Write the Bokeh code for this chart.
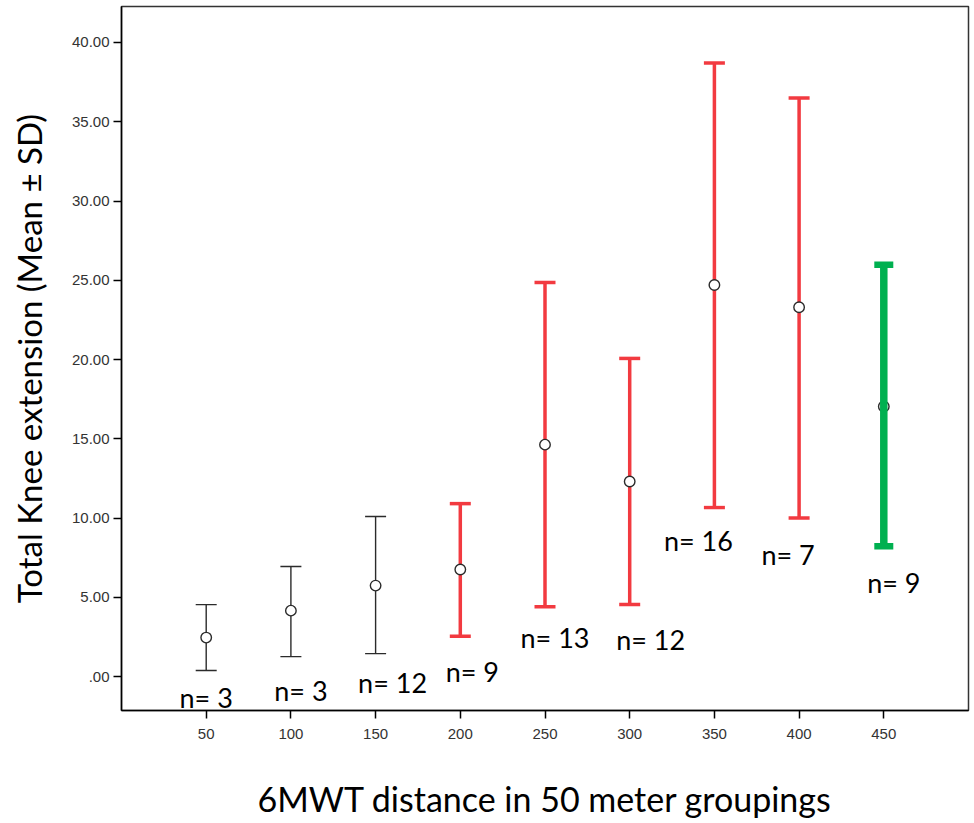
from bokeh.plotting import figure
from bokeh.models import ColumnDataSource, Range1d, FixedTicker
from bokeh.core.properties import value
from bokeh.embed import file_html
from bokeh.resources import INLINE

# ---- data ----
groups = [50, 100, 150, 200, 250, 300, 350, 400, 450]
means = [2.46, 4.16, 5.74, 6.75, 14.63, 12.31, 24.70, 23.30, 17.04]
lower = [0.38, 1.26, 1.45, 2.54, 4.41, 4.54, 10.66, 10.00, 8.22]
upper = [4.54, 6.94, 10.10, 10.91, 24.86, 20.07, 38.70, 36.50, 25.98]
counts = [3, 3, 12, 9, 13, 12, 16, 7, 9]
highlight = ["none", "none", "none", "red", "red", "red", "red", "red", "green"]

y_ticks = [0, 5, 10, 15, 20, 25, 30, 35, 40]
y_tick_labels = [".00", "5.00", "10.00", "15.00", "20.00", "25.00", "30.00", "35.00", "40.00"]
x_ticks = groups

# ---- styling (label offsets in screen pixels) ----
label_dx = [0, 10, 17, 12, 10, 21, -16, -11, 10]
label_dy = [27, 34, 29, 35, 31, 35, 33, 36, 36]

BLACK = "#2b2b2b"
RED = "#F23A40"
GREEN = "#00B050"

p = figure(width=970, height=821, x_range=Range1d(0, 500), y_range=Range1d(-2.14, 42.27),
           output_backend="svg", toolbar_location=None,
           min_border_left=121, min_border_right=2, min_border_top=6, min_border_bottom=110)
p.grid.visible = False
p.outline_line_color = "#333333"
p.outline_line_width = 1.5
p.background_fill_color = "white"
p.border_fill_color = "white"

def subset(kind):
    idx = [i for i, h in enumerate(highlight) if h == kind]
    return ColumnDataSource(dict(
        x=[groups[i] for i in idx], m=[means[i] for i in idx],
        lo=[lower[i] for i in idx], hi=[upper[i] for i in idx]))

styles = {"none": (BLACK, 1.4, 21, 1.4), "red": (RED, 3.5, 21, 3.5), "green": (GREEN, 7.5, 19, 6.5)}

def draw_bars(kind):
    src = subset(kind)
    col, lw, cap, capw = styles[kind]
    p.segment(x0="x", y0="lo", x1="x", y1="hi", source=src, line_color=col, line_width=lw)
    p.scatter(x="x", y="hi", source=src, marker="dash", size=cap, line_color=col, line_width=capw)
    p.scatter(x="x", y="lo", source=src, marker="dash", size=cap, line_color=col, line_width=capw)

draw_bars("none")
draw_bars("red")

# means
msrc = ColumnDataSource(dict(x=groups, m=means))
p.scatter(x="x", y="m", source=msrc, marker="circle", size=10.5, line_color=BLACK,
          line_width=1.4, fill_color="white")

draw_bars("green")

# n labels
lsrc = ColumnDataSource(dict(x=groups, y=lower, t=["n= %d" % c for c in counts],
                             dx=label_dx, dy=label_dy))
p.text(x="x", y="y", text="t", source=lsrc, x_offset="dx", y_offset="dy",
       text_font=value("Lato"), text_font_size="27px", text_color="black",
       text_align="center", text_baseline="middle")

# axes
for ax in (p.xaxis[0], p.yaxis[0]):
    ax.axis_line_color = "black"
    ax.axis_line_width = 1.5
    ax.major_tick_line_color = "black"
    ax.major_tick_line_width = 1.5
    ax.major_tick_in = 0
    ax.major_tick_out = 8
    ax.minor_tick_line_color = None
    ax.major_label_text_font = "Liberation Sans"
    ax.major_label_text_font_size = "15px"
    ax.major_label_text_color = "#333333"
    ax.axis_label_text_font = "Lato"
    ax.axis_label_text_font_style = "normal"
    ax.axis_label_text_color = "black"

p.xaxis.axis_label_text_font_size = "34px"
p.yaxis.axis_label_text_font_size = "33px"
p.xaxis.ticker = FixedTicker(ticks=x_ticks)
p.yaxis.ticker = FixedTicker(ticks=y_ticks)
p.yaxis.major_label_overrides = dict(zip(y_ticks, y_tick_labels))
p.xaxis.major_label_standoff = 10
p.yaxis.major_label_standoff = 4
p.xaxis.axis_label = "6MWT distance in 50 meter groupings"
p.yaxis.axis_label = "Total Knee extension (Mean \u00b1 SD)"
p.xaxis.axis_label_standoff = 36
p.yaxis.axis_label_standoff = 20

open("out.html", "w").write(file_html(p, INLINE))
